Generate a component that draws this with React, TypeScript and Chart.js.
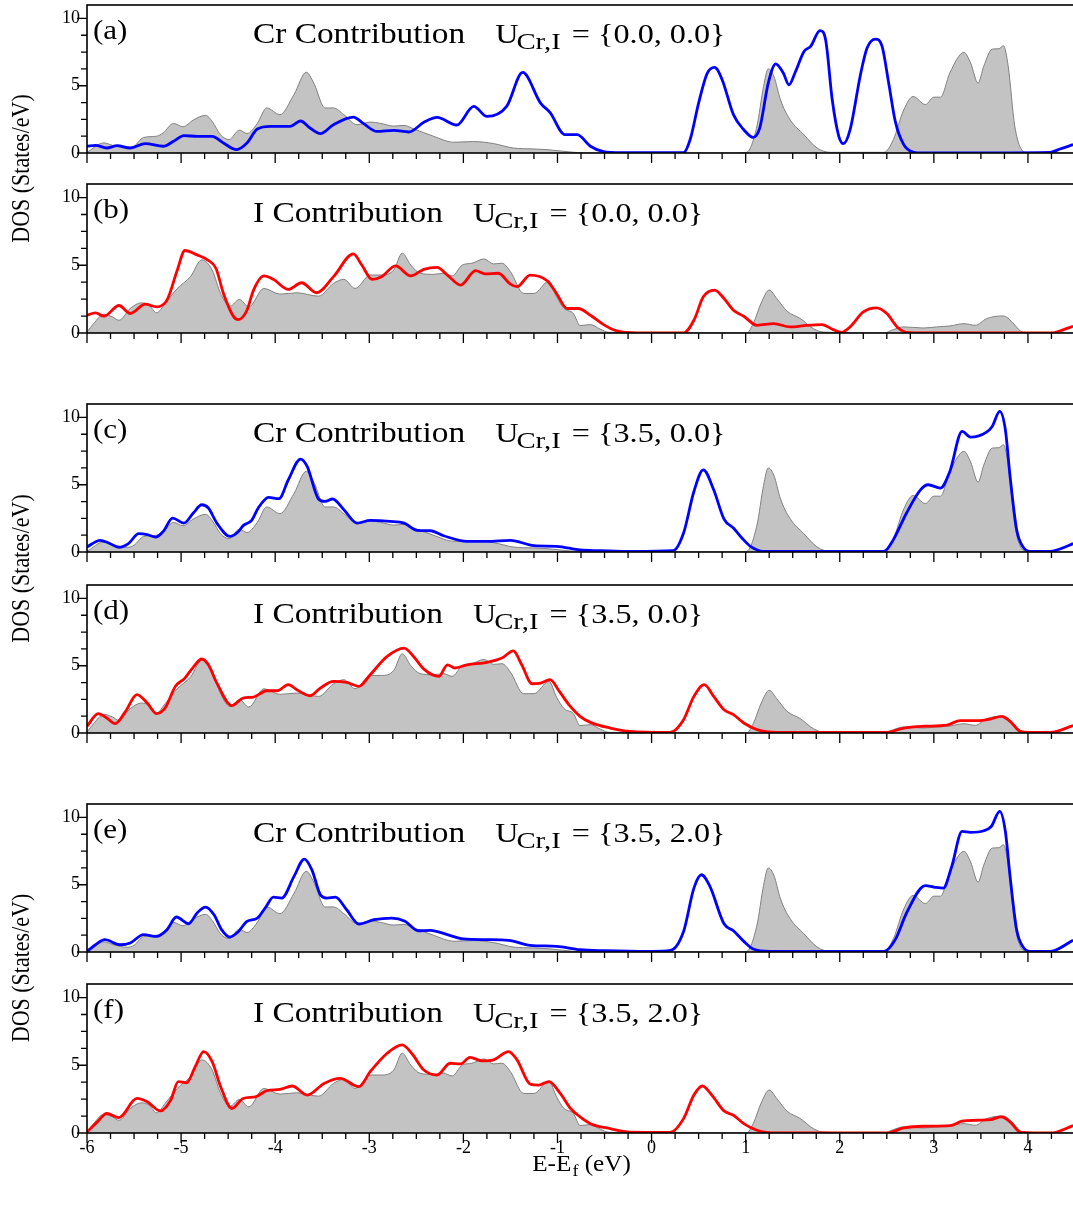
import React, { useEffect, useRef } from "react";
import { Chart, registerables } from "chart.js";

Chart.register(...registerables);

const FONT = '"Liberation Serif", "Times New Roman", serif';
const SX = 1.15;
const W = 1078;
const H = 1207;
const OFF = 30; // canvases start above the page so the top panel's padding is free

// ---------- data: energies (eV) and DOS (States/eV) ----------
const CR_TOTAL_E = [-6.00,-5.82,-5.72,-5.57,-5.50,-5.40,-5.26,-5.19,-5.08,-4.98,-4.87,-4.74,-4.67,-4.58,-4.49,-4.38,-4.30,-4.19,-4.09,-3.95,-3.80,-3.67,-3.59,-3.47,-3.38,-3.27,-3.13,-2.99,-2.88,-2.74,-2.63,-2.53,-2.32,-2.10,-1.89,-1.68,-1.47,-1.25,-1.11,-0.90,-0.76,-0.60,-0.40,0.90,1.01,1.12,1.19,1.24,1.30,1.37,1.47,1.62,1.76,1.90,2.47,2.57,2.68,2.78,2.91,3.00,3.07,3.17,3.32,3.39,3.47,3.53,3.62,3.69,3.74,3.79,3.86,3.95,4.02,4.50];
const CR_TOTAL_DOS = [0.05,0.75,0.55,0.35,0.5,1.15,1.25,1.5,2.2,1.95,2.45,2.8,2.35,1.35,1.0,1.7,1.45,2.2,3.35,2.85,4.35,6.0,5.2,3.35,3.35,2.85,2.1,2.3,2.2,2.0,2.05,1.8,1.25,0.8,0.85,0.7,0.37,0.3,0.25,0.1,0.02,0,0,0,0.05,2.0,4.95,6.25,5.7,3.95,2.5,1.35,0.37,0.05,0.05,1.0,3.2,4.2,3.6,4.15,4.15,5.95,7.48,6.7,5.2,6.45,7.72,7.75,7.97,6.45,2.0,0.12,0,0];

const I_TOTAL_E = [-6.00,-5.93,-5.82,-5.73,-5.66,-5.54,-5.42,-5.34,-5.26,-5.17,-5.04,-4.90,-4.78,-4.67,-4.58,-4.48,-4.38,-4.28,-4.12,-3.95,-3.77,-3.54,-3.38,-3.27,-3.15,-2.99,-2.87,-2.74,-2.65,-2.56,-2.46,-2.32,-2.21,-2.12,-2.01,-1.91,-1.78,-1.68,-1.59,-1.50,-1.36,-1.25,-1.09,-1.01,-0.93,-0.83,-0.76,-0.65,-0.55,-0.45,1.01,1.08,1.17,1.25,1.33,1.44,1.58,1.72,1.83,2.47,2.57,2.68,2.89,3.03,3.17,3.32,3.44,3.56,3.74,3.83,3.92,3.99,4.50];
const I_TOTAL_DOS = [0.07,0.69,1.39,1.19,0.94,1.81,2.23,2.05,1.49,2.18,3.29,4.16,5.4,4.65,2.92,1.98,2.48,1.93,3.29,2.87,2.97,2.72,3.66,3.96,3.29,4.28,4.28,4.65,5.89,5.02,4.41,4.33,4.41,4.21,5.02,5.15,5.47,5.1,5.15,4.53,2.92,2.92,3.84,2.67,1.81,1.44,0.55,0.62,0.3,0.05,0,0.69,2.3,3.17,2.55,1.61,1.07,0.32,0.07,0,0.25,0.45,0.37,0.45,0.52,0.69,0.57,1.06,1.26,0.82,0.15,0,0];

const CR_A_E = [-6.00,-5.91,-5.79,-5.68,-5.54,-5.38,-5.19,-5.08,-4.97,-4.83,-4.67,-4.55,-4.41,-4.30,-4.19,-4.05,-3.84,-3.73,-3.63,-3.52,-3.38,-3.17,-3.06,-2.92,-2.74,-2.58,-2.42,-2.28,-2.07,-1.89,-1.75,-1.54,-1.37,-1.18,-1.08,-0.92,-0.79,-0.65,-0.51,-0.33,0.34,0.41,0.50,0.59,0.67,0.75,0.87,0.98,1.08,1.15,1.24,1.32,1.40,1.46,1.53,1.62,1.69,1.79,1.85,1.92,1.99,2.04,2.11,2.22,2.29,2.38,2.45,2.52,2.59,2.68,2.78,2.89,4.24,4.34,4.48];
const CR_A_DOS = [0.5,0.57,0.37,0.55,0.37,0.7,0.5,0.87,1.29,1.24,1.24,0.74,0.25,0.74,1.78,1.98,1.98,2.38,1.86,1.44,2.1,2.67,2.18,1.6,1.68,1.56,2.28,2.65,2.08,3.47,2.72,3.47,5.99,3.71,3.02,1.36,1.36,0.5,0.1,0.02,0.02,1.0,3.71,5.9,6.36,5.45,2.85,1.73,1.16,1.86,5.2,6.63,5.94,5.07,6.06,7.55,7.92,9.1,8.4,3.96,1.24,0.69,1.73,5.82,7.8,8.47,7.92,5.2,2.35,0.62,0.07,0,0.05,0.3,0.62];

const I_B_E = [-6.00,-5.91,-5.82,-5.66,-5.54,-5.38,-5.26,-5.15,-5.04,-4.96,-4.83,-4.72,-4.63,-4.55,-4.44,-4.39,-4.30,-4.23,-4.12,-4.02,-3.86,-3.72,-3.56,-3.38,-3.17,-3.08,-2.97,-2.87,-2.72,-2.56,-2.42,-2.28,-2.17,-2.03,-1.87,-1.77,-1.63,-1.50,-1.43,-1.29,-1.11,-1.01,-0.90,-0.78,-0.65,-0.51,-0.37,-0.16,0.34,0.45,0.55,0.67,0.77,0.87,0.98,1.12,1.30,1.47,1.65,1.81,1.93,2.02,2.11,2.25,2.39,2.50,2.61,2.71,2.89,4.24,4.38,4.48];
const I_B_DOS = [1.31,1.49,1.24,2.03,1.44,2.13,1.93,2.43,4.65,6.09,5.77,5.4,4.78,2.92,1.19,0.99,1.68,3.17,4.21,3.96,3.22,3.71,2.97,4.16,5.84,5.02,3.96,4.16,4.95,4.21,4.70,4.85,4.28,3.54,4.60,4.36,4.41,3.61,3.42,4.28,3.86,2.92,1.81,1.81,1.31,0.62,0.15,0,0,0.94,2.67,3.17,2.55,1.68,1.24,0.57,0.69,0.45,0.57,0.62,0.25,0.05,0.45,1.56,1.86,1.44,0.45,0.05,0,0,0.25,0.5];

const CR_C_E = [-6.00,-5.86,-5.77,-5.66,-5.56,-5.45,-5.36,-5.27,-5.19,-5.09,-4.97,-4.87,-4.78,-4.71,-4.62,-4.48,-4.39,-4.34,-4.25,-4.18,-4.07,-3.96,-3.86,-3.73,-3.66,-3.54,-3.47,-3.39,-3.27,-3.13,-2.99,-2.78,-2.63,-2.49,-2.35,-2.21,-1.96,-1.75,-1.50,-1.25,-1.01,-0.76,-0.55,-0.20,0.23,0.34,0.45,0.55,0.66,0.77,0.87,0.96,1.05,1.19,2.47,2.57,2.71,2.86,2.94,3.07,3.17,3.30,3.39,3.56,3.62,3.70,3.76,3.81,3.88,3.95,4.02,4.24,4.34,4.48];
const CR_C_DOS = [0.37,0.87,0.67,0.35,0.62,1.36,1.29,1.11,1.53,2.52,2.15,2.9,3.51,3.27,2.15,1.16,1.53,1.96,2.35,3.27,4.06,3.96,5.37,6.91,6.36,3.94,3.76,3.94,3.14,2.15,2.35,2.28,2.15,1.61,1.58,1.21,0.79,0.79,0.87,0.47,0.42,0.15,0.1,0.04,0.1,1.41,4.5,6.11,4.63,2.45,1.78,1.04,0.42,0.05,0.05,0.92,2.9,4.63,5.0,4.75,5.99,8.96,8.54,8.91,9.33,10.45,9.08,5.62,1.66,0.35,0.05,0.05,0.22,0.62];

const I_D_E = [-6.00,-5.88,-5.79,-5.70,-5.59,-5.47,-5.36,-5.26,-5.17,-5.06,-4.96,-4.87,-4.78,-4.71,-4.62,-4.46,-4.34,-4.23,-4.09,-3.98,-3.86,-3.77,-3.63,-3.52,-3.38,-3.24,-3.11,-2.99,-2.81,-2.63,-2.53,-2.42,-2.26,-2.17,-2.09,-1.96,-1.75,-1.59,-1.47,-1.38,-1.27,-1.18,-1.08,-0.98,-0.87,-0.76,-0.65,-0.44,-0.23,0.20,0.34,0.45,0.56,0.66,0.77,0.87,0.98,1.12,1.33,2.50,2.68,2.89,3.14,3.28,3.46,3.60,3.72,3.81,3.92,4.02,4.24,4.48];
const I_D_DOS = [0.5,1.44,1.11,0.69,1.61,2.85,2.23,1.44,1.86,3.47,4.08,4.9,5.5,5.07,3.71,2.03,2.6,2.67,3.14,3.14,3.59,3.22,2.77,3.34,3.84,3.76,3.47,4.33,5.69,6.31,5.69,4.75,4.21,5.07,4.83,5.07,5.25,5.57,6.11,5.07,3.66,3.71,3.96,3.09,2.03,1.24,0.79,0.37,0.12,0.05,0.99,2.72,3.59,2.72,1.73,1.36,0.74,0.25,0.05,0.05,0.37,0.5,0.59,0.92,0.92,1.04,1.24,0.87,0.12,0.05,0.05,0.55];

const CR_E_E = [-6.00,-5.91,-5.81,-5.65,-5.54,-5.40,-5.26,-5.15,-5.05,-4.92,-4.83,-4.74,-4.65,-4.57,-4.48,-4.39,-4.30,-4.19,-4.10,-4.02,-3.93,-3.80,-3.69,-3.61,-3.52,-3.45,-3.36,-3.24,-3.11,-2.95,-2.76,-2.62,-2.48,-2.35,-2.17,-2.00,-1.75,-1.52,-1.29,-1.01,-0.76,-0.50,0.00,0.20,0.34,0.45,0.53,0.62,0.77,0.87,0.98,1.08,1.26,2.47,2.59,2.71,2.91,3.00,3.10,3.19,3.30,3.39,3.53,3.61,3.70,3.76,3.81,3.88,3.95,4.02,4.24,4.48];
const CR_E_DOS = [0.05,0.54,0.92,0.54,0.67,1.29,1.16,1.66,2.6,2.1,2.9,3.34,2.77,1.66,1.11,1.53,2.28,2.52,3.34,4.08,4.01,5.62,6.91,6.11,4.26,4.01,4.08,3.14,2.08,2.4,2.52,2.28,1.58,1.61,1.29,0.97,0.92,0.87,0.5,0.42,0.17,0.1,0.05,0.12,1.53,4.75,5.74,4.88,2.1,1.58,0.79,0.22,0.05,0.05,0.92,2.9,4.93,4.83,4.75,6.36,8.96,8.89,9.01,9.33,10.45,8.96,5.62,1.66,0.35,0.05,0.05,0.87];

const I_F_E = [-6.00,-5.89,-5.79,-5.66,-5.47,-5.36,-5.22,-5.11,-5.03,-4.94,-4.85,-4.76,-4.67,-4.58,-4.46,-4.34,-4.21,-4.09,-3.95,-3.82,-3.66,-3.48,-3.31,-3.11,-2.99,-2.81,-2.65,-2.55,-2.42,-2.28,-2.14,-2.03,-1.93,-1.80,-1.68,-1.52,-1.43,-1.29,-1.20,-1.09,-0.97,-0.86,-0.76,-0.65,-0.44,-0.23,0.20,0.34,0.45,0.54,0.64,0.77,0.87,0.98,1.12,1.33,2.50,2.68,2.89,3.17,3.30,3.46,3.60,3.72,3.81,3.92,4.24,4.48];
const I_F_DOS = [0.07,0.82,1.44,1.14,2.55,2.30,1.63,2.43,3.79,3.71,4.9,6.01,5.27,3.42,1.81,2.55,2.67,3.12,3.22,3.47,2.8,3.66,4.03,3.42,4.53,5.89,6.51,5.89,4.65,4.28,5.15,5.10,5.59,5.32,5.40,6.01,5.40,3.61,3.54,3.79,2.92,1.81,1.19,0.69,0.32,0.07,0.05,1.06,2.8,3.47,2.8,1.63,1.31,0.69,0.2,0,0,0.37,0.5,0.54,0.87,0.94,0.99,1.19,0.82,0.07,0,0.54];

const SERIES_E = [CR_A_E, I_B_E, CR_C_E, I_D_E, CR_E_E, I_F_E];
const SERIES_DOS = [CR_A_DOS, I_B_DOS, CR_C_DOS, I_D_DOS, CR_E_DOS, I_F_DOS];

const PANEL_TAGS = ["(a)", "(b)", "(c)", "(d)", "(e)", "(f)"];
const PANEL_SPECIES = ["Cr Contribution", "I Contribution", "Cr Contribution", "I Contribution", "Cr Contribution", "I Contribution"];
const PANEL_U = ["{0.0, 0.0}", "{0.0, 0.0}", "{3.5, 0.0}", "{3.5, 0.0}", "{3.5, 2.0}", "{3.5, 2.0}"];

const X_MIN = -6;
const X_MAX = 4.5;
const Y_MIN = 0;
const Y_MAX = 11;
const X_MINOR = 0.25;
const Y_MINOR = 1.25;
const Y_MAJOR_TOP = 10;

// ---------- layout ----------
const PANEL_TOP = [5, 184, 404, 585, 804, 984];
const PANEL_BOTTOM = [153, 333, 552, 733, 952, 1133];
const PLOT_LEFT = 87;
const RIGHT_PAD = 3;
const XLABEL_H = 40;

function pts(xs: number[], ys: number[]) {
  return xs.map((x, k) => ({ x, y: ys[k] }));
}

function drawScaled(ctx: CanvasRenderingContext2D, text: string, x: number, y: number, size: number, sx = SX) {
  ctx.save();
  ctx.translate(x, y);
  ctx.scale(sx, 1);
  ctx.font = `${size}px ${FONT}`;
  ctx.textAlign = "left";
  ctx.textBaseline = "alphabetic";
  ctx.fillText(text, 0, 0);
  const w = ctx.measureText(text).width * sx;
  ctx.restore();
  return w;
}

function measureScaled(ctx: CanvasRenderingContext2D, text: string, size: number, sx = SX) {
  ctx.save();
  ctx.font = `${size}px ${FONT}`;
  const w = ctx.measureText(text).width * sx;
  ctx.restore();
  return w;
}

function panelPlugin(i: number) {
  return {
    id: "panelDeco" + i,
    afterDraw(chart: any) {
      const { ctx, chartArea: a, scales } = chart;
      const xs = scales.x;
      const ys = scales.y;
      ctx.save();
      // frame
      ctx.strokeStyle = "#000";
      ctx.lineWidth = 1.6;
      ctx.strokeRect(a.left, a.top, a.right - a.left, a.bottom - a.top);
      // ticks
      ctx.lineWidth = 1.3;
      ctx.beginPath();
      const nx = Math.round((X_MAX - X_MIN) / X_MINOR);
      for (let k = 0; k <= nx; k++) {
        const v = X_MIN + k * X_MINOR;
        const px = xs.getPixelForValue(v);
        const len = Math.abs(v - Math.round(v)) < 1e-6 ? 10 : 6;
        ctx.moveTo(px, a.bottom);
        ctx.lineTo(px, a.bottom + len);
      }
      const ny = Math.round(Y_MAJOR_TOP / Y_MINOR);
      for (let k = 0; k <= ny; k++) {
        const v = k * Y_MINOR;
        const py = ys.getPixelForValue(v);
        const len = k % 4 === 0 ? 10 : 6;
        ctx.moveTo(a.left, py);
        ctx.lineTo(a.left - len, py);
      }
      ctx.stroke();

      // panel texts
      ctx.fillStyle = "#000";
      const top = a.top;
      drawScaled(ctx, PANEL_TAGS[i], 93, top + 34, 27);
      const nameX = 253;
      const base = top + 38;
      const wName = drawScaled(ctx, PANEL_SPECIES[i], nameX, base, 29);
      const ux = nameX + wName + 30;
      const wU = drawScaled(ctx, "U", ux, base, 28);
      const wSub = drawScaled(ctx, "Cr,I", ux + wU - 2, base + 6, 24, 1.2);
      const eqX = ux + wU + wSub + 9;
      drawScaled(ctx, "= " + PANEL_U[i], eqX, base, 28);

      // y axis titles (one per pair of panels)
      if (i % 2 === 0) {
        const cy = (PANEL_BOTTOM[i] + PANEL_TOP[i + 1]) / 2 + OFF;
        ctx.save();
        ctx.translate(22, cy);
        ctx.rotate(-Math.PI / 2);
        ctx.scale(1, SX);
        ctx.font = `22px ${FONT}`;
        ctx.textAlign = "center";
        ctx.textBaseline = "middle";
        ctx.fillText("DOS (States/eV)", 0, 0);
        ctx.restore();
      }
      // x axis title
      if (i === 5) {
        const s1 = "E-E";
        const s2 = "f";
        const s3 = " (eV)";
        const fs = 24;
        const w1 = measureScaled(ctx, s1, fs, 1.05);
        const w2 = measureScaled(ctx, s2, 17, 1.05);
        const w3 = measureScaled(ctx, s3, fs, 1.05);
        const cx = (a.left + a.right) / 2;
        let x0 = cx - (w1 + w2 + w3) / 2;
        const by = a.bottom + 38;
        x0 += drawScaled(ctx, s1, x0, by, fs, 1.05);
        x0 += drawScaled(ctx, s2, x0 + 1, by + 5, 17, 1.05) + 1;
        drawScaled(ctx, s3, x0, by, fs, 1.05);
      }
      ctx.restore();
    },
  };
}

function makeChart(canvas: HTMLCanvasElement, i: number) {
  const isCr = i % 2 === 0;
  const total = isCr ? pts(CR_TOTAL_E, CR_TOTAL_DOS) : pts(I_TOTAL_E, I_TOTAL_DOS);
  const line = pts(SERIES_E[i], SERIES_DOS[i]);
  const color = isCr ? "#0000ff" : "#ff0000";
  const tickFont = { family: FONT, size: 18 };
  const isLast = i === 5;
  const xh = isLast ? XLABEL_H : 0;
  return new Chart(canvas, {
    type: "line",
    data: {
      datasets: [
        {
          data: line,
          borderColor: color,
          borderWidth: 2.8,
          pointRadius: 0,
          fill: false,
          cubicInterpolationMode: "monotone",
          order: 0,
        },
        {
          data: total,
          borderColor: "#808080",
          backgroundColor: "#c3c3c3",
          borderWidth: 1,
          pointRadius: 0,
          fill: "origin",
          cubicInterpolationMode: "monotone",
          order: 1,
        },
      ],
    },
    options: {
      animation: false,
      responsive: false,
      maintainAspectRatio: false,
      devicePixelRatio: 1,
      events: [],
      layout: {
        padding: { top: PANEL_TOP[i] + OFF, bottom: H - PANEL_BOTTOM[i] - xh, left: 0, right: RIGHT_PAD },
      },
      plugins: {
        legend: { display: false },
        tooltip: { enabled: false },
        title: { display: false },
      },
      scales: {
        x: {
          type: "linear",
          min: X_MIN,
          max: X_MAX,
          afterFit: (s: any) => {
            s.height = xh;
          },
          grid: { display: false, drawTicks: false },
          border: { display: false },
          ticks: {
            display: isLast,
            stepSize: 1,
            includeBounds: false,
            autoSkip: false,
            maxRotation: 0,
            padding: 4,
            color: "#000",
            font: tickFont,
            callback: (v: any) => (Number.isInteger(v) ? String(v) : ""),
          },
        },
        y: {
          type: "linear",
          min: Y_MIN,
          max: Y_MAX,
          afterFit: (s: any) => {
            s.width = PLOT_LEFT;
          },
          grid: { display: false, drawTicks: false },
          border: { display: false },
          ticks: {
            stepSize: 5,
            includeBounds: false,
            padding: 7,
            color: "#000",
            font: tickFont,
          },
        },
      },
    },
    plugins: [panelPlugin(i)],
  } as any);
}

export default function App() {
  const refs = useRef<(HTMLCanvasElement | null)[]>([]);
  useEffect(() => {
    const charts = refs.current.map((c, i) => (c ? makeChart(c, i) : null));
    return () => {
      charts.forEach((c) => c && c.destroy());
    };
  }, []);
  return (
    <div
      style={{
        position: "absolute",
        left: 0,
        top: 0,
        width: 1073,
        height: H,
        overflow: "hidden",
        background: "#fff",
      }}
    >
      {PANEL_TAGS.map((_, i) => (
        <canvas
          key={i}
          ref={(el) => {
            refs.current[i] = el;
          }}
          width={W}
          height={H + OFF}
          style={{ position: "absolute", left: 0, top: -OFF, width: W, height: H + OFF }}
        />
      ))}
    </div>
  );
}
